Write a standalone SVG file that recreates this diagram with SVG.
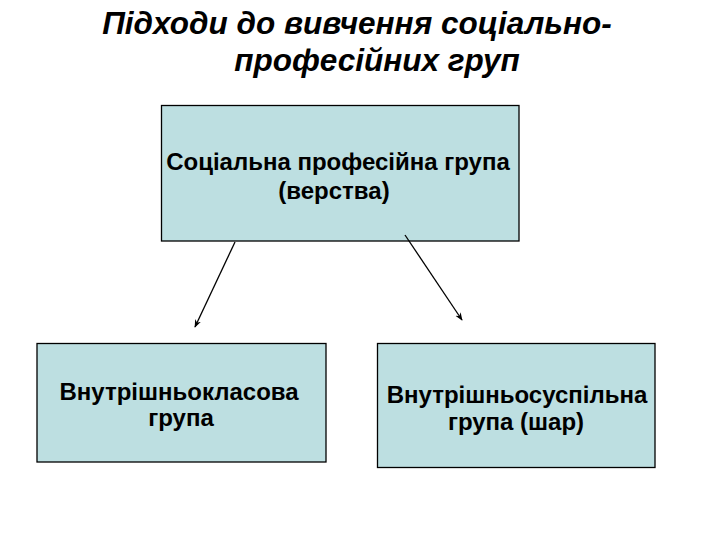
<svg xmlns="http://www.w3.org/2000/svg" width="720" height="540" viewBox="0 0 720 540">
  <style>
    .box { fill: #BDDFE1; stroke: #000000; stroke-width: 1.3; }
    .lbl { font-family: "Liberation Sans", Arial, sans-serif; font-weight: bold; font-size: 24px; fill: #000000; text-anchor: middle; }
    .title { font-family: "Liberation Sans", Arial, sans-serif; font-weight: bold; font-style: italic; font-size: 31.5px; fill: #000000; text-anchor: middle; }
    .conn { stroke: #000000; stroke-width: 1.3; fill: none; }
  </style>
  <defs>
    <marker id="arrow" viewBox="0 0 10 10" refX="9" refY="5" markerWidth="8" markerHeight="8" markerUnits="userSpaceOnUse" orient="auto">
      <path d="M0,1 L10,5 L0,9 L3,5 Z" fill="#000000"/>
    </marker>
  </defs>
  <rect width="720" height="540" fill="#FFFFFF"/>
  <g id="title">
    <text class="title" x="357" y="34">Підходи до вивчення соціально-</text>
    <text class="title" x="377" y="71">професійних груп</text>
  </g>
  <g id="node-top">
    <rect class="box" x="161.5" y="105.5" width="357.5" height="135.5"/>
    <text class="lbl" x="338" y="170">Соціальна професійна група</text>
    <text class="lbl" x="334" y="199">(верства)</text>
  </g>
  <g id="node-left">
    <rect class="box" x="37" y="343.5" width="289" height="118.5"/>
    <text class="lbl" x="179" y="400">Внутрішньокласова</text>
    <text class="lbl" x="181" y="426">група</text>
  </g>
  <g id="node-right">
    <rect class="box" x="377.5" y="343.5" width="277.5" height="124"/>
    <text class="lbl" x="517" y="403">Внутрішньосуспільна</text>
    <text class="lbl" x="516" y="430">група (шар)</text>
  </g>
  <g id="connectors">
    <line class="conn" x1="235" y1="242" x2="195" y2="327" marker-end="url(#arrow)"/>
    <line class="conn" x1="405" y1="235" x2="462" y2="320" marker-end="url(#arrow)"/>
  </g>
</svg>
